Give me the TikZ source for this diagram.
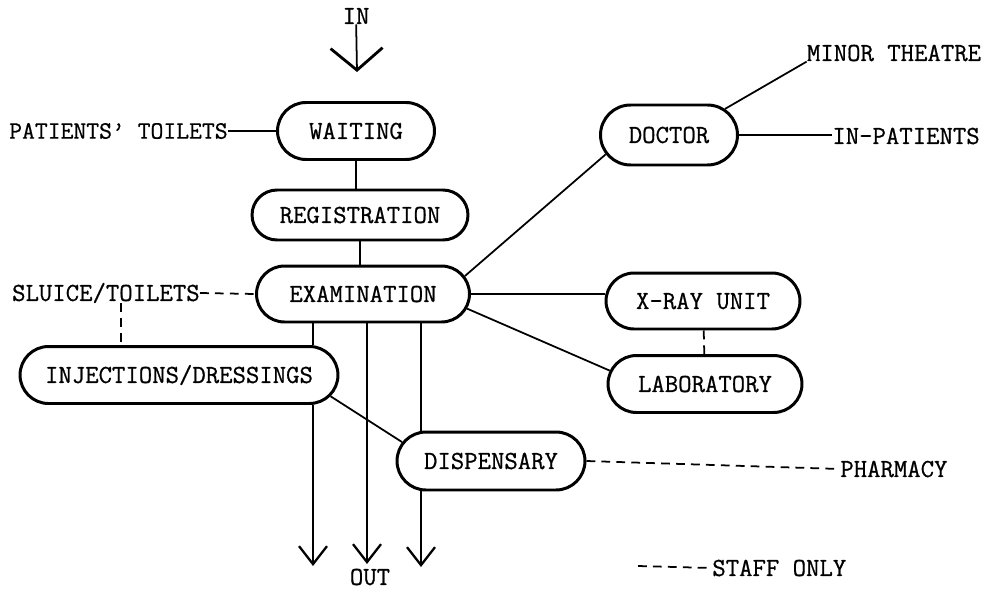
\documentclass[tikz,border=0pt]{standalone}
\usepackage{fontspec}
\newfontfamily\planfont{Latin Modern Mono}[FakeBold=0.7]
\usetikzlibrary{shapes.misc,arrows.meta}

\tikzset{
  room/.style={draw, rounded rectangle, line width=1.7pt, fill=white, minimum height=1.12cm, inner sep=0pt},
  place/.style={inner sep=0pt},
  link/.style={line width=1pt},
  staffonly/.style={line width=1pt, dash pattern=on 5pt off 3.5pt},
  outflow/.style={line width=1pt, -{Straight Barb[length=3.6mm,width=5.6mm,line width=1.3pt]}}
}

\begin{document}
\begin{tikzpicture}[x=0.02cm, y=-0.02cm, font=\planfont\fontsize{14.8}{16}\selectfont]
\useasboundingbox (0,0) rectangle (999,591);

    \coordinate (in-tip) at (357,72);
    \coordinate (out-left) at (313,566);
    \coordinate (out-middle) at (367,564);
    \coordinate (out-right) at (421,567);
    \coordinate (legend-start) at (638,566);

% salas
\node[room, minimum width=3.14cm, minimum height=1.14cm] (waiting) at (356,131) {WAITING};
\node[room, minimum width=4.32cm, minimum height=1.0cm] (registration) at (360,215) {REGISTRATION};
\node[room, minimum width=4.26cm] (examination) at (363,294) {EXAMINATION};
\node[room, minimum width=6.36cm, minimum height=1.14cm] (injections) at (179,375) {INJECTIONS/DRESSINGS};
\node[room, minimum width=2.74cm, minimum height=1.2cm] (doctor) at (669,135) {DOCTOR};
\node[room, minimum width=3.88cm] (xray) at (703,301) {X-RAY UNIT};
\node[room, minimum width=3.88cm, minimum height=1.14cm] (laboratory) at (705,384) {LABORATORY};
\node[room, minimum width=3.76cm, minimum height=1.16cm] (dispensary) at (491,461) {DISPENSARY};

% lugares de fora
\node[place] (in) at (356,16) {IN};
\node[place, anchor=east, font=\planfont\fontsize{14.2}{16}\selectfont] (patients-toilets) at (228,131) {PATIENTS’ TOILETS};
\node[place, anchor=east] (sluice) at (200,293) {SLUICE/TOILETS};
\node[place] (minor-theatre) at (894,53) {MINOR THEATRE};
\node[place, anchor=west] (in-patients) at (832,136) {IN-PATIENTS};
\node[place, anchor=west] (pharmacy) at (840,469) {PHARMACY};
\node[place] (out) at (370,577) {OUT};
\node[place, anchor=west] (staff-only) at (712,568) {STAFF ONLY};

    \coordinate (sluice-drop) at ([xshift=0.3cm]sluice.south);

% entrada
\draw[line width=1pt, -{Straight Barb[length=4.4mm,width=10.4mm,line width=1.6pt]}] (in) -- (in-tip);

% caminho principal
\draw[link] (waiting.south) -- (waiting.south |- registration.north);
\draw[link] (registration.south) -- (registration.south |- examination.north);

% ligações laterais
\draw[link] (patients-toilets.east) -- (waiting.west);
\draw[staffonly] (sluice.east) -- (examination.west);
\draw[staffonly] (sluice-drop) -- (sluice-drop |- injections.north);
\draw[link] (examination.10) -- (doctor.197);
\draw[link] (doctor.25) -- (minor-theatre.south west);
\draw[link] (doctor.east) -- (doctor.east -| in-patients.west);
\draw[link] (examination.east) -- (examination.east -| xray.west);
\draw[link] (examination.352) -- (laboratory.172);
\draw[staffonly] (xray) -- (laboratory);
\draw[link] (injections.352) -- (dispensary.168);
\draw[staffonly] (dispensary.east) -- (pharmacy.west);

% saídas
\draw[link] (examination.south -| out-left) -- (out-left |- injections.north);
\draw[outflow] (out-left |- injections.south) -- (out-left);
\draw[outflow] (examination.south -| out-middle) -- (out-middle);
\draw[link] (examination.south -| out-right) -- (out-right |- dispensary.north);
\draw[outflow] (out-right |- dispensary.south) -- (out-right);

% legenda
\draw[staffonly] (legend-start) -- (staff-only.west);

  \end{tikzpicture}
\end{document}
